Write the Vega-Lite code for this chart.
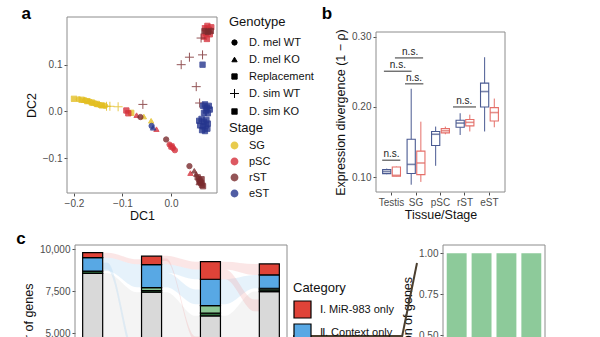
{
  "$schema": "https://vega.github.io/schema/vega-lite/v6.json",
  "width": 600,
  "height": 337,
  "autosize": {"type": "none"},
  "padding": 0,
  "background": "white",
  "config": {
    "font": "Liberation Sans",
    "view": {"stroke": null},
    "axis": {"domain": false, "grid": false, "labelColor": "#4D4D4D", "labelFontSize": 10, "tickColor": "#4D4D4D", "tickSize": 3, "labelPadding": 2, "titleFontWeight": "normal", "titleFontSize": 12.5, "titleColor": "#111"},
    "legend": {"labelFontSize": 11, "titleFontSize": 13, "titleFontWeight": "normal", "labelColor": "#111", "titleColor": "#111"}
  },
  "layer": [
    {
      "layer": [
        {
          "data": {"values": [
            {"x": -0.200, "y": 0.027, "g": "D. sim KO", "s": "SG"},
            {"x": -0.190, "y": 0.026, "g": "D. mel WT", "s": "SG"},
            {"x": -0.184, "y": 0.025, "g": "Replacement", "s": "SG"},
            {"x": -0.180, "y": 0.024, "g": "D. mel KO", "s": "SG"},
            {"x": -0.177, "y": 0.024, "g": "D. mel WT", "s": "SG"},
            {"x": -0.173, "y": 0.022, "g": "Replacement", "s": "SG"},
            {"x": -0.170, "y": 0.022, "g": "D. mel KO", "s": "SG"},
            {"x": -0.167, "y": 0.021, "g": "D. mel WT", "s": "SG"},
            {"x": -0.163, "y": 0.019, "g": "Replacement", "s": "SG"},
            {"x": -0.160, "y": 0.018, "g": "D. mel KO", "s": "SG"},
            {"x": -0.156, "y": 0.017, "g": "D. mel WT", "s": "SG"},
            {"x": -0.153, "y": 0.016, "g": "Replacement", "s": "SG"},
            {"x": -0.150, "y": 0.015, "g": "D. mel KO", "s": "SG"},
            {"x": -0.147, "y": 0.014, "g": "D. mel WT", "s": "SG"},
            {"x": -0.143, "y": 0.013, "g": "Replacement", "s": "SG"},
            {"x": -0.140, "y": 0.013, "g": "D. mel KO", "s": "SG"},
            {"x": -0.136, "y": 0.012, "g": "D. mel WT", "s": "SG"},
            {"x": -0.133, "y": 0.011, "g": "D. sim WT", "s": "SG"},
            {"x": -0.126, "y": 0.011, "g": "D. sim WT", "s": "SG"},
            {"x": -0.109, "y": 0.010, "g": "D. sim WT", "s": "SG"},
            {"x": -0.082, "y": -0.003, "g": "Replacement", "s": "SG"},
            {"x": -0.056, "y": -0.011, "g": "D. mel KO", "s": "SG"},
            {"x": -0.041, "y": -0.020, "g": "D. mel KO", "s": "SG"},
            {"x": -0.092, "y": 0.002, "g": "Replacement", "s": "pSC"},
            {"x": -0.088, "y": -0.004, "g": "Replacement", "s": "pSC"},
            {"x": -0.071, "y": -0.008, "g": "D. mel KO", "s": "pSC"},
            {"x": -0.030, "y": -0.038, "g": "D. mel KO", "s": "pSC"},
            {"x": -0.003, "y": -0.071, "g": "D. mel WT", "s": "pSC"},
            {"x": 0.001, "y": -0.075, "g": "Replacement", "s": "pSC"},
            {"x": 0.004, "y": -0.078, "g": "D. mel WT", "s": "pSC"},
            {"x": 0.008, "y": -0.083, "g": "D. mel WT", "s": "pSC"},
            {"x": 0.040, "y": -0.132, "g": "D. mel KO", "s": "pSC"},
            {"x": 0.070, "y": 0.178, "g": "D. sim KO", "s": "pSC"},
            {"x": 0.075, "y": 0.183, "g": "Replacement", "s": "pSC"},
            {"x": 0.078, "y": 0.175, "g": "D. sim KO", "s": "pSC"},
            {"x": 0.072, "y": 0.168, "g": "Replacement", "s": "pSC"},
            {"x": 0.080, "y": 0.165, "g": "D. sim KO", "s": "pSC"},
            {"x": 0.068, "y": 0.160, "g": "D. sim KO", "s": "pSC"},
            {"x": 0.083, "y": 0.180, "g": "Replacement", "s": "pSC"},
            {"x": 0.074, "y": 0.155, "g": "D. sim KO", "s": "pSC"},
            {"x": -0.063, "y": -0.012, "g": "D. mel WT", "s": "rST"},
            {"x": -0.010, "y": -0.060, "g": "D. mel WT", "s": "rST"},
            {"x": 0.038, "y": -0.117, "g": "D. mel WT", "s": "rST"},
            {"x": 0.048, "y": -0.127, "g": "D. mel KO", "s": "rST"},
            {"x": 0.052, "y": -0.134, "g": "D. mel KO", "s": "rST"},
            {"x": 0.055, "y": -0.141, "g": "Replacement", "s": "rST"},
            {"x": 0.058, "y": -0.146, "g": "Replacement", "s": "rST"},
            {"x": 0.060, "y": -0.150, "g": "Replacement", "s": "rST"},
            {"x": 0.062, "y": -0.153, "g": "Replacement", "s": "rST"},
            {"x": 0.064, "y": -0.157, "g": "Replacement", "s": "rST"},
            {"x": 0.066, "y": -0.160, "g": "Replacement", "s": "rST"},
            {"x": 0.057, "y": -0.152, "g": "D. mel KO", "s": "rST"},
            {"x": 0.063, "y": -0.145, "g": "Replacement", "s": "rST"},
            {"x": 0.076, "y": 0.170, "g": "Replacement", "s": "rST"},
            {"x": 0.082, "y": 0.172, "g": "D. sim KO", "s": "rST"},
            {"x": 0.069, "y": 0.172, "g": "Replacement", "s": "rST"},
            {"x": -0.058, "y": 0.015, "g": "D. sim WT", "s": "rST"},
            {"x": 0.021, "y": 0.100, "g": "D. sim WT", "s": "rST"},
            {"x": 0.038, "y": 0.116, "g": "D. sim WT", "s": "rST"},
            {"x": 0.065, "y": 0.121, "g": "D. sim WT", "s": "rST"},
            {"x": 0.052, "y": 0.053, "g": "D. sim WT", "s": "rST"},
            {"x": 0.059, "y": 0.018, "g": "D. sim WT", "s": "rST"},
            {"x": 0.062, "y": 0.157, "g": "D. sim WT", "s": "rST"},
            {"x": -0.040, "y": -0.031, "g": "D. mel WT", "s": "eST"},
            {"x": -0.037, "y": -0.035, "g": "D. mel KO", "s": "eST"},
            {"x": 0.065, "y": 0.100, "g": "D. sim KO", "s": "eST"},
            {"x": 0.066, "y": 0.012, "g": "Replacement", "s": "eST"},
            {"x": 0.070, "y": 0.015, "g": "D. sim KO", "s": "eST"},
            {"x": 0.074, "y": 0.008, "g": "Replacement", "s": "eST"},
            {"x": 0.078, "y": 0.012, "g": "Replacement", "s": "eST"},
            {"x": 0.072, "y": 0.002, "g": "D. sim KO", "s": "eST"},
            {"x": 0.080, "y": 0.004, "g": "Replacement", "s": "eST"},
            {"x": 0.068, "y": -0.003, "g": "Replacement", "s": "eST"},
            {"x": 0.076, "y": -0.004, "g": "D. sim KO", "s": "eST"},
            {"x": 0.058, "y": -0.020, "g": "Replacement", "s": "eST"},
            {"x": 0.063, "y": -0.016, "g": "D. sim KO", "s": "eST"},
            {"x": 0.068, "y": -0.022, "g": "Replacement", "s": "eST"},
            {"x": 0.073, "y": -0.018, "g": "Replacement", "s": "eST"},
            {"x": 0.060, "y": -0.030, "g": "D. sim KO", "s": "eST"},
            {"x": 0.066, "y": -0.032, "g": "Replacement", "s": "eST"},
            {"x": 0.072, "y": -0.030, "g": "Replacement", "s": "eST"},
            {"x": 0.076, "y": -0.026, "g": "Replacement", "s": "eST"},
            {"x": 0.064, "y": -0.040, "g": "D. sim KO", "s": "eST"},
            {"x": 0.070, "y": -0.042, "g": "Replacement", "s": "eST"},
            {"x": 0.075, "y": -0.037, "g": "Replacement", "s": "eST"}
          ]},
          "mark": {"type": "point", "filled": true, "opacity": 0.8, "strokeWidth": 1, "size": 28},
          "encoding": {
            "x": {"field": "x", "type": "quantitative", "scale": {"domain": [-0.2144, 0.0948], "range": [67, 217], "nice": false, "zero": false}, "axis": {"orient": "bottom", "offset": -144, "values": [-0.2, -0.1, 0], "format": ".1f", "title": "DC1", "titlePadding": 1}},
            "y": {"field": "y", "type": "quantitative", "scale": {"domain": [-0.1745, 0.202], "range": [193, 17], "nice": false, "zero": false}, "axis": {"orient": "left", "offset": -67, "values": [-0.1, 0, 0.1], "format": ".1f", "title": "DC2"}},
            "shape": {"field": "g", "type": "nominal", "scale": {"domain": ["D. mel WT", "D. mel KO", "Replacement", "D. sim WT", "D. sim KO"], "range": ["circle", "triangle-up", "square", "M-1.7,0H1.7M0,-1.7V1.7", "M-1,-1H1V1H-1ZM-1,-1L1,1M1,-1L-1,1"]},
              "legend": {"title": "Genotype", "orient": "none", "legendX": 229, "legendY": 16, "symbolFillColor": "black", "symbolStrokeColor": "black", "symbolStrokeWidth": 1, "symbolSize": 28, "symbolOpacity": 1, "rowPadding": 5, "titlePadding": 8, "labelOffset": 9}},
            "fill": {"field": "s", "type": "nominal", "scale": {"domain": ["SG", "pSC", "rST", "eST"], "range": ["#E3BF22", "#D5303B", "#7A2B2E", "#26368E"]},
              "legend": {"title": "Stage", "orient": "none", "legendX": 229, "legendY": 122, "symbolType": "circle", "symbolSize": 40, "symbolOpacity": 0.8, "rowPadding": 3, "titlePadding": 5, "labelOffset": 9}},
            "stroke": {"field": "s", "type": "nominal", "scale": {"domain": ["SG", "pSC", "rST", "eST"], "range": ["#E3BF22", "#D5303B", "#7A2B2E", "#26368E"]},
              "legend": {"title": "Stage", "orient": "none", "legendX": 229, "legendY": 122, "symbolType": "circle", "symbolSize": 40, "symbolOpacity": 0.8, "rowPadding": 3, "titlePadding": 5, "labelOffset": 9}}
          }
        },
        {
          "data": {"values": [{}]},
          "mark": {"type": "rect", "fillOpacity": 0, "stroke": "#8C8C8C", "strokeWidth": 1},
          "encoding": {
            "x": {"datum": -0.2144, "type": "quantitative"},
            "x2": {"datum": 0.0948},
            "y": {"datum": -0.1745, "type": "quantitative"},
            "y2": {"datum": 0.202}
          }
        },
        {
          "data": {"values": [{}]},
          "mark": {"type": "text", "text": "a", "fontSize": 17, "fontWeight": "bold", "color": "#000", "align": "center", "baseline": "middle"},
          "encoding": {
            "x": {"datum": -0.2986, "type": "quantitative"},
            "y": {"datum": 0.2085, "type": "quantitative"}
          }
        }
      ]
    },
    {
      "layer": [
        {
          "data": {"values": [
            {"stage": "Testis", "geno": "WT", "lo": 0.104, "q1": 0.1048, "med": 0.1077, "q3": 0.1106, "hi": 0.112},
            {"stage": "Testis", "geno": "KO", "lo": 0.101, "q1": 0.101, "med": 0.1024, "q3": 0.1143, "hi": 0.115},
            {"stage": "SG", "geno": "WT", "lo": 0.089, "q1": 0.105, "med": 0.118, "q3": 0.154, "hi": 0.226},
            {"stage": "SG", "geno": "KO", "lo": 0.093, "q1": 0.1034, "med": 0.120, "q3": 0.137, "hi": 0.179},
            {"stage": "pSC", "geno": "WT", "lo": 0.116, "q1": 0.145, "med": 0.161, "q3": 0.165, "hi": 0.172},
            {"stage": "pSC", "geno": "KO", "lo": 0.161, "q1": 0.163, "med": 0.166, "q3": 0.169, "hi": 0.172},
            {"stage": "rST", "geno": "WT", "lo": 0.160, "q1": 0.171, "med": 0.177, "q3": 0.181, "hi": 0.191},
            {"stage": "rST", "geno": "KO", "lo": 0.165, "q1": 0.173, "med": 0.178, "q3": 0.182, "hi": 0.189},
            {"stage": "eST", "geno": "WT", "lo": 0.165, "q1": 0.200, "med": 0.222, "q3": 0.234, "hi": 0.271},
            {"stage": "eST", "geno": "KO", "lo": 0.171, "q1": 0.180, "med": 0.192, "q3": 0.199, "hi": 0.212}
          ]},
          "encoding": {
            "x": {"field": "stage", "type": "nominal", "sort": ["Testis", "SG", "pSC", "rST", "eST"], "scale": {"range": [376, 505], "paddingInner": 0.27, "paddingOuter": 0.27}, "axis": {"orient": "bottom", "offset": -145, "title": "Tissue/Stage", "labelAngle": 0, "titlePadding": 1}},
            "xOffset": {"field": "geno", "type": "nominal", "sort": ["WT", "KO"], "scale": {"paddingInner": 0.15}}
          },
          "layer": [
            {
              "mark": {"type": "rule", "strokeWidth": 1},
              "encoding": {
                "y": {"field": "lo", "type": "quantitative", "scale": {"domain": [0.0786, 0.307], "range": [192, 32], "nice": false, "zero": false}, "axis": {"orient": "left", "offset": -376, "values": [0.1, 0.2, 0.3], "format": ".2f", "title": "Expression divergence (1 − ρ)"}},
                "y2": {"field": "hi"},
                "stroke": {"field": "geno", "type": "nominal", "scale": {"domain": ["WT", "KO"], "range": ["#4A5A92", "#E56F69"]}, "legend": null}
              }
            },
            {
              "mark": {"type": "bar", "fill": "white", "strokeWidth": 1.1},
              "encoding": {
                "y": {"field": "q1", "type": "quantitative"},
                "y2": {"field": "q3"},
                "stroke": {"field": "geno", "type": "nominal", "scale": {"domain": ["WT", "KO"], "range": ["#4A5A92", "#E56F69"]},
                  "legend": {"title": "Genotype", "orient": "none", "legendX": 517, "legendY": 84, "symbolType": "square", "symbolSize": 150, "symbolFillColor": "white", "symbolStrokeWidth": 1.2, "rowPadding": 4, "titlePadding": 8, "labelOffset": 8}}
              }
            },
            {
              "mark": {"type": "tick", "orient": "horizontal", "size": 8, "thickness": 1.6},
              "encoding": {
                "y": {"field": "med", "type": "quantitative"},
                "color": {"field": "geno", "type": "nominal", "scale": {"domain": ["WT", "KO"], "range": ["#3E4E86", "#DC6059"]}, "legend": null}
              }
            }
          ]
        },
        {
          "layer": [
            {
              "data": {"values": [
                {"x": -0.38, "x2": 0.36, "xm": 0.0, "y": 0.124, "t": "n.s."},
                {"x": -0.31, "x2": 0.82, "xm": 0.26, "y": 0.251, "t": "n.s."},
                {"x": 0.14, "x2": 1.29, "xm": 0.76, "y": 0.270, "t": "n.s."},
                {"x": 0.55, "x2": 1.30, "xm": 0.92, "y": 0.233, "t": "n.s."},
                {"x": 2.51, "x2": 3.45, "xm": 2.97, "y": 0.200, "t": "n.s."}
              ]},
              "layer": [
                {
                  "mark": {"type": "rule", "color": "#555555", "strokeWidth": 1.2},
                  "encoding": {
                    "x": {"field": "x", "type": "quantitative", "scale": {"domain": [-0.6325, 4.6325], "range": [376, 505], "nice": false, "zero": false}, "axis": null},
                    "x2": {"field": "x2"},
                    "y": {"field": "y", "type": "quantitative"}
                  }
                },
                {
                  "mark": {"type": "text", "fontSize": 10, "color": "#222222", "baseline": "bottom", "dy": -1},
                  "encoding": {
                    "x": {"field": "xm", "type": "quantitative"},
                    "y": {"field": "y", "type": "quantitative"},
                    "text": {"field": "t"}
                  }
                }
              ]
            },
            {
              "data": {"values": [{}]},
              "mark": {"type": "rect", "fillOpacity": 0, "stroke": "#8C8C8C", "strokeWidth": 1},
              "encoding": {
                "x": {"datum": -0.6325, "type": "quantitative"},
                "x2": {"datum": 4.6325},
                "y": {"datum": 0.0786, "type": "quantitative"},
                "y2": {"datum": 0.307}
              }
            },
            {
              "data": {"values": [{}]},
              "mark": {"type": "text", "text": "b", "fontSize": 17, "fontWeight": "bold", "color": "#000", "align": "center", "baseline": "middle"},
              "encoding": {
                "x": {"datum": -2.63, "type": "quantitative"},
                "y": {"datum": 0.3324, "type": "quantitative"}
              }
            }
          ]
        }
      ],
      "resolve": {"scale": {"x": "independent"}}
    },
    {
      "layer": [
        {
          "layer": [
            {
              "data": {"values": [
                {"f": "g0", "t": "g", "x": 0.17, "lo": 4000, "hi": 8570}, {"f": "g0", "t": "g", "x": 0.25, "lo": 4000, "hi": 8570}, {"f": "g0", "t": "g", "x": 0.75, "lo": 3500, "hi": 7440}, {"f": "g0", "t": "g", "x": 0.83, "lo": 3500, "hi": 7440},
                {"f": "b0", "t": "b", "x": 0.17, "lo": 8700, "hi": 9500}, {"f": "b0", "t": "b", "x": 0.25, "lo": 8700, "hi": 9500}, {"f": "b0", "t": "b", "x": 0.75, "lo": 7738, "hi": 9107}, {"f": "b0", "t": "b", "x": 0.83, "lo": 7738, "hi": 9107},
                {"f": "r0", "t": "r", "x": 0.17, "lo": 9500, "hi": 9800}, {"f": "r0", "t": "r", "x": 0.25, "lo": 9500, "hi": 9800}, {"f": "r0", "t": "r", "x": 0.75, "lo": 9107, "hi": 9400}, {"f": "r0", "t": "r", "x": 0.83, "lo": 9107, "hi": 9400},
                {"f": "bd0", "t": "b", "x": 0.17, "lo": 8800, "hi": 9200}, {"f": "bd0", "t": "b", "x": 0.25, "lo": 8800, "hi": 9200}, {"f": "bd0", "t": "b", "x": 0.75, "lo": 3000, "hi": 3600}, {"f": "bd0", "t": "b", "x": 0.83, "lo": 3000, "hi": 3600},
                {"f": "g1", "t": "g", "x": 1.17, "lo": 4000, "hi": 7440}, {"f": "g1", "t": "g", "x": 1.25, "lo": 4000, "hi": 7440}, {"f": "g1", "t": "g", "x": 1.75, "lo": 3000, "hi": 6030}, {"f": "g1", "t": "g", "x": 1.83, "lo": 3000, "hi": 6030},
                {"f": "b1", "t": "b", "x": 1.17, "lo": 7738, "hi": 8600}, {"f": "b1", "t": "b", "x": 1.25, "lo": 7738, "hi": 8600}, {"f": "b1", "t": "b", "x": 1.75, "lo": 6726, "hi": 7600}, {"f": "b1", "t": "b", "x": 1.83, "lo": 6726, "hi": 7600},
                {"f": "br1", "t": "b", "x": 1.17, "lo": 8600, "hi": 9107}, {"f": "br1", "t": "b", "x": 1.25, "lo": 8600, "hi": 9107}, {"f": "br1", "t": "b", "x": 1.75, "lo": 8214, "hi": 8800}, {"f": "br1", "t": "b", "x": 1.83, "lo": 8214, "hi": 8800},
                {"f": "r1", "t": "r", "x": 1.17, "lo": 9107, "hi": 9620}, {"f": "r1", "t": "r", "x": 1.25, "lo": 9107, "hi": 9620}, {"f": "r1", "t": "r", "x": 1.75, "lo": 8800, "hi": 9262}, {"f": "r1", "t": "r", "x": 1.83, "lo": 8800, "hi": 9262},
                {"f": "rd1", "t": "r", "x": 1.17, "lo": 9300, "hi": 9450}, {"f": "rd1", "t": "r", "x": 1.25, "lo": 9300, "hi": 9450}, {"f": "rd1", "t": "r", "x": 1.75, "lo": 4500, "hi": 4800}, {"f": "rd1", "t": "r", "x": 1.83, "lo": 4500, "hi": 4800},
                {"f": "g2", "t": "g", "x": 2.17, "lo": 3000, "hi": 6030}, {"f": "g2", "t": "g", "x": 2.25, "lo": 3000, "hi": 6030}, {"f": "g2", "t": "g", "x": 2.75, "lo": 4500, "hi": 7476}, {"f": "g2", "t": "g", "x": 2.83, "lo": 4500, "hi": 7476},
                {"f": "b2", "t": "b", "x": 2.17, "lo": 6726, "hi": 8214}, {"f": "b2", "t": "b", "x": 2.25, "lo": 6726, "hi": 8214}, {"f": "b2", "t": "b", "x": 2.75, "lo": 7680, "hi": 8470}, {"f": "b2", "t": "b", "x": 2.83, "lo": 7680, "hi": 8470},
                {"f": "r2", "t": "r", "x": 2.17, "lo": 8800, "hi": 9262}, {"f": "r2", "t": "r", "x": 2.25, "lo": 8800, "hi": 9262}, {"f": "r2", "t": "r", "x": 2.75, "lo": 8470, "hi": 9125}, {"f": "r2", "t": "r", "x": 2.83, "lo": 8470, "hi": 9125},
                {"f": "rd2", "t": "r", "x": 2.17, "lo": 8214, "hi": 8800}, {"f": "rd2", "t": "r", "x": 2.25, "lo": 8214, "hi": 8800}, {"f": "rd2", "t": "r", "x": 2.75, "lo": 6300, "hi": 7000}, {"f": "rd2", "t": "r", "x": 2.83, "lo": 6300, "hi": 7000}
              ]},
              "mark": {"type": "area", "interpolate": "monotone", "opacity": 0.25},
              "encoding": {
                "x": {"field": "x", "type": "quantitative", "scale": {"domain": [-0.3, 3.299], "range": [75, 287], "nice": false, "zero": false}, "axis": null},
                "y": {"field": "lo", "type": "quantitative", "stack": null, "scale": {"domain": [0, 10256], "range": [417, 245], "nice": false}, "axis": {"orient": "left", "offset": -75, "values": [0, 2500, 5000, 7500, 10000], "labelExpr": "format(datum.value, ',')", "title": "Number of genes"}},
                "y2": {"field": "hi"},
                "detail": {"field": "f"},
                "fill": {"field": "t", "type": "nominal", "scale": {"domain": ["r", "b", "g"], "range": ["#EE9A9A", "#9ACDEE", "#D4D4D4"]}, "legend": null}
              }
            },
            {
              "data": {"values": [{}]},
              "mark": {"type": "rect", "fillOpacity": 0, "stroke": "#8C8C8C", "strokeWidth": 1},
              "encoding": {
                "x": {"datum": -0.3, "type": "quantitative"},
                "x2": {"datum": 3.299},
                "y": {"datum": 0, "type": "quantitative"},
                "y2": {"datum": 10256}
              }
            },
            {
              "data": {"values": [{}]},
              "mark": {"type": "text", "text": "c", "fontSize": 17, "fontWeight": "bold", "color": "#000", "align": "center", "baseline": "middle"},
              "encoding": {
                "x": {"datum": -1.217, "type": "quantitative"},
                "y": {"datum": 10613, "type": "quantitative"}
              }
            }
          ]
        },
        {
          "data": {"values": [
            {"stage": "SG", "cat": "Ⅴ. Unchanged", "n": 8570},
            {"stage": "SG", "cat": "Ⅳ. Interaction", "n": 130},
            {"stage": "SG", "cat": "Ⅱ. Context only", "n": 800},
            {"stage": "SG", "cat": "Ⅰ. MiR-983 only", "n": 300},
            {"stage": "pSC", "cat": "Ⅴ. Unchanged", "n": 7440},
            {"stage": "pSC", "cat": "Ⅳ. Interaction", "n": 100},
            {"stage": "pSC", "cat": "Ⅲ. Both", "n": 170},
            {"stage": "pSC", "cat": "Ⅱ. Context only", "n": 1370},
            {"stage": "pSC", "cat": "Ⅰ. MiR-983 only", "n": 510},
            {"stage": "rST", "cat": "Ⅴ. Unchanged", "n": 6030},
            {"stage": "rST", "cat": "Ⅳ. Interaction", "n": 160},
            {"stage": "rST", "cat": "Ⅲ. Both", "n": 450},
            {"stage": "rST", "cat": "Ⅱ. Context only", "n": 1574},
            {"stage": "rST", "cat": "Ⅰ. MiR-983 only", "n": 1048},
            {"stage": "eST", "cat": "Ⅴ. Unchanged", "n": 7476},
            {"stage": "eST", "cat": "Ⅳ. Interaction", "n": 100},
            {"stage": "eST", "cat": "Ⅲ. Both", "n": 100},
            {"stage": "eST", "cat": "Ⅱ. Context only", "n": 794},
            {"stage": "eST", "cat": "Ⅰ. MiR-983 only", "n": 655}
          ]},
          "mark": {"type": "bar", "stroke": "black", "strokeWidth": 1.2},
          "encoding": {
            "x": {"field": "stage", "type": "nominal", "sort": ["SG", "pSC", "rST", "eST"], "scale": {"range": [75, 287], "paddingInner": 0.66, "paddingOuter": 0.13}, "axis": null},
            "y": {"field": "n", "type": "quantitative", "stack": "zero", "axis": {"orient": "left", "offset": -75, "values": [0, 2500, 5000, 7500, 10000], "labelExpr": "format(datum.value, ',')", "title": "Number of genes"}},
            "color": {"field": "cat", "type": "nominal", "scale": {"domain": ["Ⅰ. MiR-983 only", "Ⅱ. Context only", "Ⅲ. Both", "Ⅳ. Interaction", "Ⅴ. Unchanged"], "range": ["#DF4338", "#58A8E4", "#8CC795", "#2E6A3C", "#D9D9D9"]},
              "legend": {"title": "Category", "orient": "none", "legendX": 293, "legendY": 282, "symbolType": "square", "symbolSize": 289, "symbolStrokeColor": "black", "symbolStrokeWidth": 1.2, "symbolOpacity": 1, "rowPadding": 0, "titlePadding": 5, "labelOffset": 8}},
            "order": {"field": "cat", "sort": "descending"}
          }
        }
      ],
      "resolve": {"scale": {"x": "independent"}}
    },
    {
      "layer": [
        {
          "data": {"values": [
            {"stage": "SG", "p": 1},
            {"stage": "pSC", "p": 1},
            {"stage": "rST", "p": 1},
            {"stage": "eST", "p": 1}
          ]},
          "mark": {"type": "bar", "color": "#8DCA9A"},
          "encoding": {
            "x": {"field": "stage", "type": "nominal", "sort": ["SG", "pSC", "rST", "eST"], "scale": {"range": [443, 545], "paddingInner": 0.2, "paddingOuter": 0.15}, "axis": null},
            "y": {"field": "p", "type": "quantitative", "scale": {"domain": [0, 1.05], "range": [417, 245], "nice": false}, "axis": {"orient": "left", "offset": -443, "values": [0, 0.25, 0.5, 0.75, 1], "format": ".2f", "title": "Proportion of genes"}}
          }
        },
        {
          "layer": [
            {
              "data": {"values": [{}]},
              "mark": {"type": "rect", "fillOpacity": 0, "stroke": "#8C8C8C", "strokeWidth": 1},
              "encoding": {
                "x": {"datum": 0, "type": "quantitative", "scale": {"domain": [0, 1], "range": [443, 545], "nice": false, "zero": false}, "axis": null},
                "x2": {"datum": 1},
                "y": {"datum": 0, "type": "quantitative"},
                "y2": {"datum": 1.05}
              }
            },
            {
              "data": {"values": [
                {"xa": -0.255, "ya": 0.940, "xb": -0.402, "yb": 0.488},
                {"xa": -1.47, "ya": 0.494, "xb": -0.402, "yb": 0.494}
              ]},
              "mark": {"type": "rule", "color": "#4B3F2F", "strokeWidth": 2},
              "encoding": {
                "x": {"field": "xa", "type": "quantitative"},
                "x2": {"field": "xb"},
                "y": {"field": "ya", "type": "quantitative"},
                "y2": {"field": "yb"}
              }
            }
          ]
        }
      ],
      "resolve": {"scale": {"x": "independent"}}
    }
  ],
  "resolve": {
    "scale": {"x": "independent", "y": "independent", "color": "independent", "fill": "independent", "stroke": "independent", "shape": "independent", "size": "independent"},
    "axis": {"x": "independent", "y": "independent"},
    "legend": {"color": "independent", "fill": "independent", "stroke": "independent", "shape": "independent", "size": "independent"}
  }
}
